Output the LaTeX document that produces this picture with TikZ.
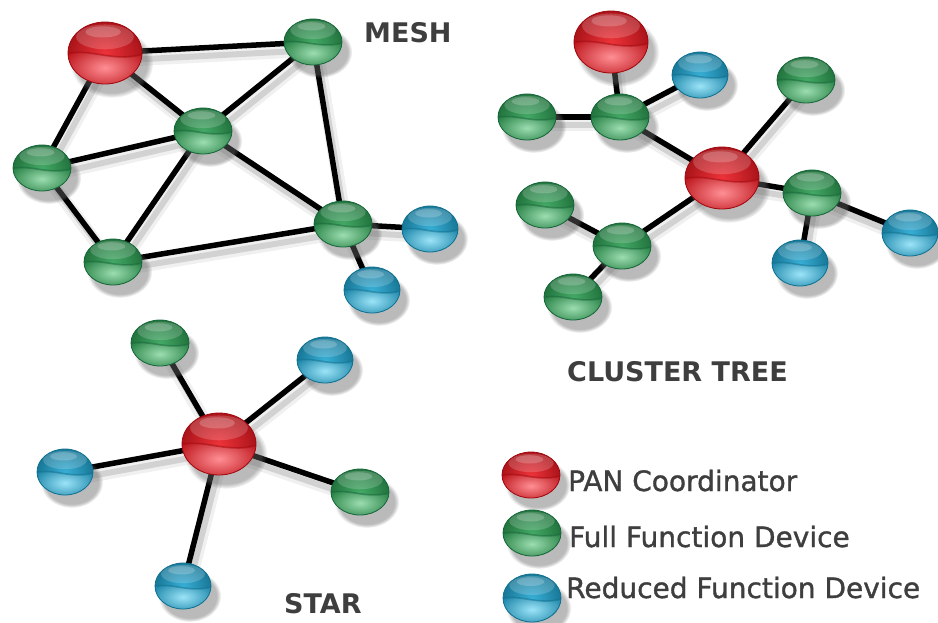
\documentclass[tikz,border=0pt]{standalone}
\usepackage{fontspec}
\setmainfont{DejaVu Sans}
\newfontfamily\legendfont[FakeBold=1.2]{DejaVu Sans}
\usetikzlibrary{shapes.geometric,shadows,fadings}

\definecolor{panMain}{HTML}{EC1C24}
\definecolor{panLight}{HTML}{FF8F94}
\definecolor{panDark}{HTML}{A0080E}
\definecolor{ffdMain}{HTML}{2FA055}
\definecolor{ffdLight}{HTML}{9CDDB0}
\definecolor{ffdDark}{HTML}{17663A}
\definecolor{rfdMain}{HTML}{22A6D2}
\definecolor{rfdLight}{HTML}{9CE4F8}
\definecolor{rfdDark}{HTML}{10708F}
\definecolor{labelgray}{HTML}{3E3E3E}

\pgfdeclarelayer{edgelayer}
\pgfdeclarelayer{paper}
\pgfsetlayers{paper,edgelayer,main}

\tikzset{
  % glossy ball: half width, half height, colour family
  ball/.style n args={3}{
    ellipse, inner sep=0pt,
    minimum width={2*#1pt}, minimum height={2*#2pt},
    draw=#3Dark, line width=0.8pt,
    shading=radial, inner color=#3Main!90!white, outer color=#3Main!72!black,
    circular drop shadow={shadow xshift=6pt, shadow yshift=-9pt,
      shadow scale=1.12, opacity=0.45, fill=black!60},
    path picture={
      \begin{scope}[shift={(path picture bounding box.center)}, x=#1pt, y=#2pt]
        % lower reflected glow below the wave
        \shade[inner color=#3Light, outer color=#3Main!80!black]
          (-1.2,-0.1) .. controls (-0.5,0.3) and (0.3,-0.45) .. (1.2,0.05)
          -- (1.2,-1.25) -- (-1.2,-1.25) -- cycle;
        % dark wave line
        \draw[#3Dark, line width=1.6pt, opacity=0.5]
          (-1.2,-0.1) .. controls (-0.5,0.3) and (0.3,-0.45) .. (1.2,0.05);
        % top gloss
        \fill[white, opacity=0.18] (0,0.52) ellipse (0.78 and 0.4);
        \fill[white, opacity=0.2] (-0.05,0.68) ellipse (0.48 and 0.18);
      \end{scope}
    }
  },
  pan/.style={ball={37}{31}{pan}},
  ffd/.style={ball={29}{23}{ffd}},
  rfd/.style={ball={28}{23}{rfd}},
  link/.style={line width=5.5pt, black},
  linkshadow/.style={line width=13pt, black, opacity=0.06,
    transform canvas={shift={(4pt,-8pt)}}},
  linkshadowcore/.style={line width=6pt, black, opacity=0.12,
    transform canvas={shift={(4pt,-8pt)}}},
  title/.style={font=\bfseries\fontsize{27}{30}\selectfont, text=labelgray,
    anchor=base west, inner sep=0pt},
  legendtext/.style={font=\legendfont\fontsize{28}{32}\selectfont, text=labelgray,
    anchor=base west, inner sep=0pt},
}

\begin{document}
\begin{tikzpicture}[x=1pt, y=-1pt]
  \begin{pgfonlayer}{paper}
    \fill[white] (0,0) rectangle (938,623);
  \end{pgfonlayer}
  \useasboundingbox (0,0) rectangle (938,623);

  % ---------- mesh ----------
  \node[pan] (m1) at (105,53) {};
  \node[ffd] (m2) at (313,42) {};
  \node[ffd] (m3) at (203,131) {};
  \node[ffd] (m4) at (42,168) {};
  \node[ffd] (m5) at (113,262) {};
  \node[ffd] (m6) at (343,224) {};
  \node[rfd] (m7) at (430,229) {};
  \node[rfd] (m8) at (372,290) {};

  % ---------- cluster tree ----------
  \node[pan] (c1) at (611,42) {};
  \node[rfd] (c2) at (700,75) {};
  \node[ffd] (c3) at (527,117) {};
  \node[ffd] (c4) at (620,117) {};
  \node[ffd] (c5) at (806,80) {};
  \node[pan] (c6) at (722,178) {};
  \node[ffd] (c7) at (545,205) {};
  \node[ffd] (c8) at (622,246) {};
  \node[ffd] (c9) at (812,193) {};
  \node[rfd] (c10) at (910,233) {};
  \node[rfd] (c11) at (800,263) {};
  \node[ffd] (c12) at (573,297) {};

  % ---------- star ----------
  \node[pan] (s0) at (219,444) {};
  \node[ffd] (s1) at (160,343) {};
  \node[rfd] (s2) at (325,360) {};
  \node[rfd] (s3) at (65,472) {};
  \node[ffd] (s4) at (360,492) {};
  \node[rfd] (s5) at (183,586) {};

  % ---------- legend ----------
  \node[ball={29}{23}{pan}] (l1) at (531,475) {};
  \node[ball={29}{23}{ffd}] (l2) at (532,533) {};
  \node[ball={29}{24}{rfd}] (l3) at (532,598) {};
  \node[legendtext] (t1) at (568,491) {PAN Coordinator};
  \node[legendtext] (t2) at (569,547) {Full Function Device};
  \node[legendtext] (t3) at (566,598) {Reduced Function Device};

  % ---------- titles ----------
  \node[title] (mesh) at (364,43) {MESH};
  \node[title] (tree) at (567,381) {CLUSTER TREE};
  \node[title] (star) at (284,613) {STAR};

  % ---------- links ----------
  \begin{pgfonlayer}{edgelayer}
    \foreach \a/\b in {m1/m2, m1/m3, m1/m4, m2/m3, m2/m6, m4/m3, m3/m5,
                       m3/m6, m4/m5, m5/m6, m6/m7, m6/m8,
                       c1/c4, c4/c2, c3/c4, c4/c6, c6/c5, c6/c8, c6/c9,
                       c8/c7, c8/c12, c9/c10, c9/c11,
                       s0/s1, s0/s2, s0/s3, s0/s4, s0/s5} {
      \draw[linkshadow] (\a.center) -- (\b.center);
      \draw[linkshadowcore] (\a.center) -- (\b.center);
      \draw[link] (\a.center) -- (\b.center);
    }
  \end{pgfonlayer}
\end{tikzpicture}
\end{document}
